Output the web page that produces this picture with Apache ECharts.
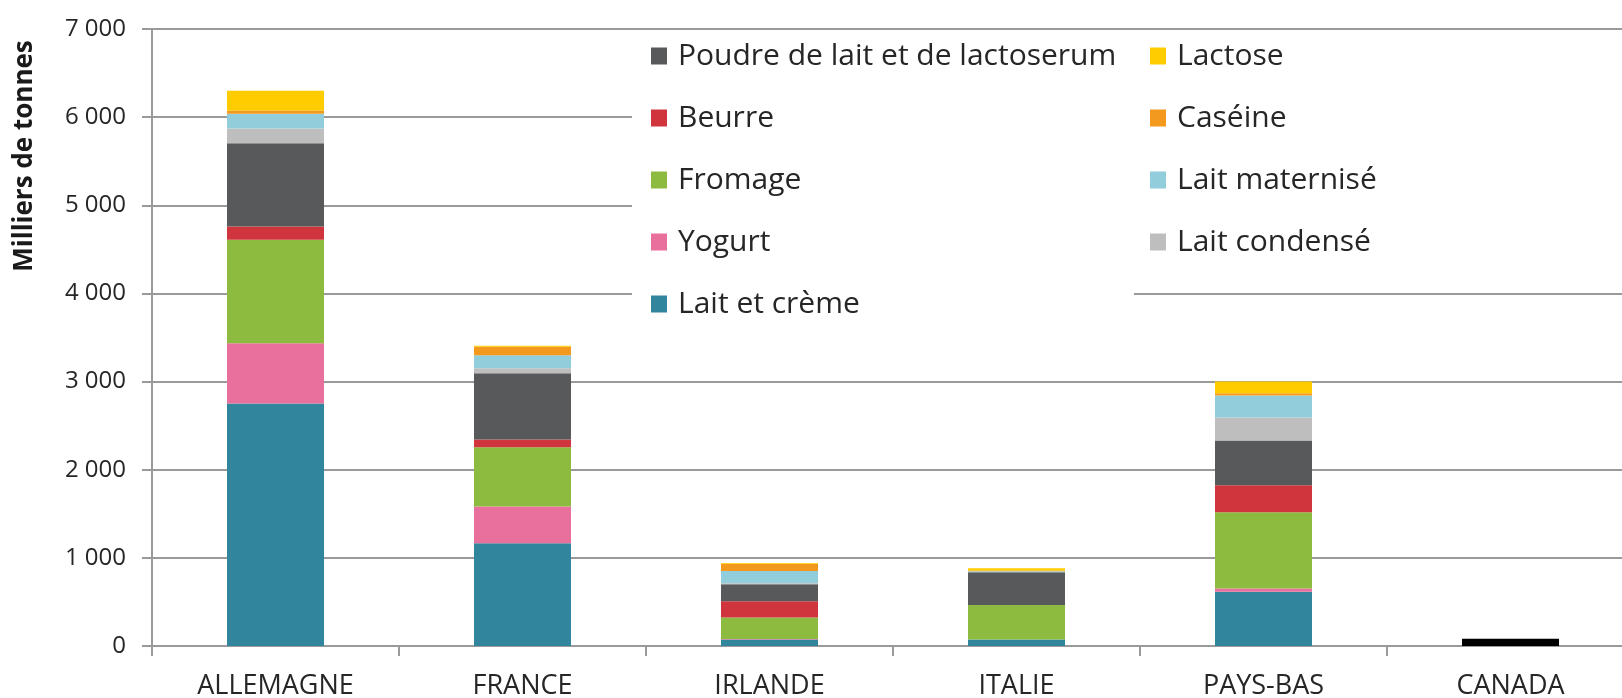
<!DOCTYPE html>
<html>
<head>
<meta charset="utf-8">
<script src="https://cdn.jsdelivr.net/npm/echarts@6/dist/echarts.min.js"></script>
<style>
html,body{margin:0;padding:0;background:#fff;}
#chart{width:1622px;height:698px;}
</style>
</head>
<body>
<div id="chart"></div>
<script>
// Categories and tick labels
const categories = ['ALLEMAGNE', 'FRANCE', 'IRLANDE', 'ITALIE', 'PAYS-BAS', 'CANADA'];
const yTickLabels = ['0', '1 000', '2 000', '3 000', '4 000', '5 000', '6 000', '7 000'];
const yTitle = 'Milliers de tonnes';

// Series values (milliers de tonnes), stacked bottom to top
const laitCreme     = [2750, 1165,  75,  75, 615, null];
const yogurt        = [ 685,  418,   5,   0,  38, null];
const fromage       = [1175,  673, 242, 390, 864, null];
const beurre        = [ 150,   86, 186,   0, 306, null];
const poudre        = [ 945,  752, 193, 372, 509, null];
const laitCondense  = [ 167,   56,  10,   0, 260, null];
const laitMaternise = [ 167,  150, 141,  10, 250, null];
const caseine       = [  35,   95,  82,  10,  26, null];
const lactose       = [ 225,   10,   8,  25, 132, null];
const canadaTotal   = [null, null, null, null, null, 83];

const names = {
  laitCreme: 'Lait et crème', yogurt: 'Yogurt', fromage: 'Fromage', beurre: 'Beurre',
  poudre: 'Poudre de lait et de lactoserum', condense: 'Lait condensé',
  materinise: 'Lait maternisé', caseine: 'Caséine', lactose: 'Lactose'
};

const FONT = "'Open Sans', 'Noto Sans', sans-serif";

function bar(name, data, color) {
  return {
    name: name, type: 'bar', stack: 'total', data: data, barWidth: 97,
    itemStyle: { color: color }, emphasis: { disabled: true }, z: 2
  };
}

const legendText = { fontFamily: FONT, fontSize: 30, color: '#262626', lineHeight: 36, padding: [0, 0, 0, 6] };

const chart = echarts.init(document.getElementById('chart'), null, { renderer: 'canvas' });
chart.setOption({
  animation: false,
  backgroundColor: '#ffffff',
  grid: { left: 152, right: -12, top: 29, bottom: 52, containLabel: false, outerBoundsMode: 'none' },
  xAxis: {
    type: 'category', data: categories, boundaryGap: true,
    axisLine: { lineStyle: { color: '#9a9a9a', width: 2 } },
    axisTick: { show: true, length: 10, alignWithLabel: false, lineStyle: { color: '#9a9a9a', width: 2 } },
    axisLabel: { fontFamily: FONT, fontSize: 27, color: '#262626', margin: 27, interval: 0 }
  },
  yAxis: {
    type: 'value', min: 0, max: 7000, interval: 1000,
    axisLine: { show: true, lineStyle: { color: '#9a9a9a', width: 2 } },
    axisTick: { show: true, length: 10, lineStyle: { color: '#9a9a9a', width: 2 } },
    splitLine: { show: true, lineStyle: { color: '#9a9a9a', width: 2 } },
    axisLabel: { fontFamily: FONT, fontSize: 24, color: '#262626', margin: 26,
      formatter: function (v) { return yTickLabels[Math.round(v / 1000)]; } }
  },
  legend: [
    {
      orient: 'vertical', left: 651, top: 38, padding: 0, itemGap: 26,
      itemWidth: 16, itemHeight: 17, icon: 'rect', selectedMode: false,
      textStyle: legendText,
      data: [names.poudre, names.beurre, names.fromage, names.yogurt, names.laitCreme]
    },
    {
      orient: 'vertical', left: 1150, top: 38, padding: 0, itemGap: 26,
      itemWidth: 16, itemHeight: 17, icon: 'rect', selectedMode: false,
      textStyle: legendText,
      data: [names.lactose, names.caseine, names.materinise, names.condense]
    }
  ],
  graphic: [
    { type: 'rect', z: 1, silent: true, shape: { x: 632, y: 37, width: 1000, height: 237 }, style: { fill: '#ffffff' } },
    { type: 'rect', z: 1, silent: true, shape: { x: 632, y: 270, width: 502, height: 60 }, style: { fill: '#ffffff' } },
    { type: 'text', z: 5, silent: true, x: 25, y: 156, rotation: Math.PI / 2,
      style: { text: yTitle, fontFamily: FONT, fontSize: 26, fontWeight: 'bold', fill: '#1a1a1a',
        textAlign: 'center', textVerticalAlign: 'middle' } }
  ],
  series: [
    bar(names.laitCreme, laitCreme, '#31859C'),
    bar(names.yogurt, yogurt, '#E96F9D'),
    bar(names.fromage, fromage, '#8DBB3F'),
    bar(names.beurre, beurre, '#D0343D'),
    bar(names.poudre, poudre, '#58595B'),
    bar(names.condense, laitCondense, '#BEBEBE'),
    bar(names.materinise, laitMaternise, '#92CDDC'),
    bar(names.caseine, caseine, '#F39A1E'),
    bar(names.lactose, lactose, '#FFCC00'),
    bar('Canada', canadaTotal, '#000000')
  ]
});
</script>
</body>
</html>
